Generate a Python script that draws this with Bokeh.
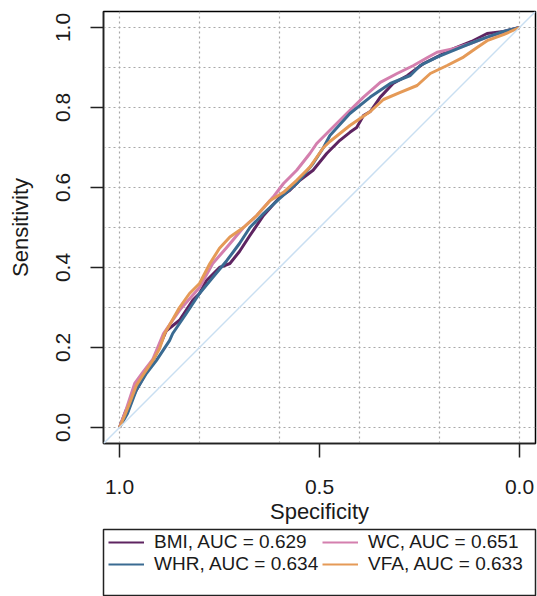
from bokeh.plotting import figure
from bokeh.layouts import column
from bokeh.models import Range1d, FixedTicker, Slope, Legend, LegendItem, PrintfTickFormatter
from bokeh.embed import file_html
from bokeh.resources import INLINE

# ---- data ----
bmi_spec = [1.0, 0.985, 0.96, 0.935, 0.91, 0.883, 0.85, 0.817, 0.80, 0.783, 0.75, 0.724, 0.70, 0.674,
            0.64, 0.60, 0.574, 0.549, 0.516, 0.482, 0.449, 0.424, 0.407, 0.39, 0.373, 0.348, 0.316,
            0.28, 0.24, 0.215, 0.165, 0.12, 0.081, 0.04, 0.0]
bmi_sens = [0.0, 0.04, 0.09, 0.135, 0.18, 0.242, 0.268, 0.318, 0.335, 0.367, 0.40, 0.41, 0.44, 0.48,
            0.53, 0.575, 0.593, 0.618, 0.643, 0.685, 0.718, 0.738, 0.75, 0.78, 0.79, 0.826, 0.86,
            0.88, 0.91, 0.922, 0.947, 0.965, 0.985, 0.99, 1.0]

wc_spec = [1.0, 0.985, 0.962, 0.94, 0.917, 0.89, 0.85, 0.80, 0.767, 0.732, 0.69, 0.657, 0.616, 0.59,
           0.557, 0.524, 0.507, 0.474, 0.432, 0.39, 0.348, 0.306, 0.265, 0.23, 0.206, 0.165, 0.123,
           0.081, 0.04, 0.0]
wc_sens = [0.0, 0.04, 0.11, 0.14, 0.17, 0.235, 0.293, 0.35, 0.41, 0.45, 0.50, 0.53, 0.576, 0.61,
           0.643, 0.685, 0.71, 0.743, 0.785, 0.826, 0.863, 0.885, 0.905, 0.925, 0.938, 0.947, 0.96,
           0.976, 0.988, 1.0]

whr_spec = [1.0, 0.98, 0.958, 0.933, 0.908, 0.875, 0.867, 0.833, 0.80, 0.767, 0.732, 0.70, 0.674,
            0.64, 0.60, 0.557, 0.516, 0.49, 0.474, 0.424, 0.373, 0.323, 0.273, 0.248, 0.206, 0.165,
            0.123, 0.081, 0.04, 0.0]
whr_sens = [0.0, 0.035, 0.093, 0.135, 0.167, 0.217, 0.235, 0.285, 0.335, 0.375, 0.417, 0.46, 0.50,
            0.535, 0.572, 0.61, 0.66, 0.70, 0.73, 0.785, 0.826, 0.86, 0.88, 0.905, 0.926, 0.943,
            0.96, 0.976, 0.99, 1.0]

vfa_spec = [1.0, 0.987, 0.975, 0.958, 0.942, 0.917, 0.90, 0.887, 0.85, 0.825, 0.80, 0.774, 0.75,
            0.724, 0.69, 0.657, 0.624, 0.59, 0.557, 0.524, 0.49, 0.474, 0.424, 0.373, 0.34, 0.298,
            0.256, 0.223, 0.181, 0.14, 0.106, 0.081, 0.04, 0.0]
vfa_sens = [0.0, 0.03, 0.06, 0.105, 0.13, 0.167, 0.197, 0.235, 0.30, 0.335, 0.36, 0.41, 0.448,
            0.476, 0.50, 0.53, 0.567, 0.588, 0.618, 0.651, 0.70, 0.715, 0.755, 0.79, 0.82, 0.838,
            0.855, 0.885, 0.905, 0.926, 0.95, 0.967, 0.982, 1.0]

series_names = ["BMI", "WC", "WHR", "VFA"]
series_auc = ["0.629", "0.651", "0.634", "0.633"]
series_colors = ["#5E2461", "#D47FAE", "#3A6B92", "#E59A57"]

x_ticks = [1.0, 0.5, 0.0]
x_tick_labels = ["1.0", "0.5", "0.0"]
y_ticks = [0.0, 0.2, 0.4, 0.6, 0.8, 1.0]
y_tick_labels = ["0.0", "0.2", "0.4", "0.6", "0.8", "1.0"]
x_grid = [0.0, 0.2, 0.4, 0.6, 0.8, 1.0]
y_grid = [0.0, 0.1, 0.2, 0.3, 0.4, 0.5, 0.6, 0.7, 0.8, 0.9, 1.0]

FONT = "Liberation Sans"

# ---------------- main ROC panel ----------------
p = figure(width=537, height=527, output_backend="svg", toolbar_location=None,
           x_range=Range1d(1.04, -0.04), y_range=Range1d(-0.04, 1.04),
           min_border_left=103, min_border_right=2, min_border_top=11, min_border_bottom=84,
           background_fill_color="white", border_fill_color="white")

p.outline_line_color = "black"
p.outline_line_width = 1.5
p.outline_line_alpha = 1.0

p.xgrid.ticker = FixedTicker(ticks=x_grid)
p.ygrid.ticker = FixedTicker(ticks=y_grid)
for g in (p.xgrid, p.ygrid):
    g.grid_line_color = "#A8A8A8"
    g.grid_line_dash = "2 3"
    g.grid_line_width = 1.2

p.xaxis.ticker = FixedTicker(ticks=x_ticks)
p.yaxis.ticker = FixedTicker(ticks=y_ticks)
p.xaxis.formatter = PrintfTickFormatter(format="%.1f")
p.yaxis.formatter = PrintfTickFormatter(format="%.1f")
p.xaxis.major_label_overrides = dict(zip(x_ticks, x_tick_labels))
p.yaxis.major_label_overrides = dict(zip(y_ticks, y_tick_labels))
p.xaxis.axis_label = "Specificity"
p.yaxis.axis_label = "Sensitivity"
p.yaxis.major_label_orientation = "vertical"
for ax in (p.xaxis, p.yaxis):
    ax.axis_line_color = "#222222"
    ax.axis_line_width = 1.5
    ax.major_tick_line_color = "#222222"
    ax.major_tick_line_width = 1.5
    ax.major_tick_in = 0
    ax.minor_tick_line_color = None
    ax.major_label_text_font = FONT
    ax.major_label_text_font_size = "21px"
    ax.major_label_text_color = "#1a1a1a"
    ax.axis_label_text_font = FONT
    ax.axis_label_text_font_size = "22px"
    ax.axis_label_text_font_style = "normal"
    ax.axis_label_text_color = "#1a1a1a"
p.xaxis.major_tick_out = 14
p.yaxis.major_tick_out = 13
p.xaxis.major_label_standoff = 22
p.yaxis.major_label_standoff = 21
p.xaxis.axis_label_standoff = 2
p.yaxis.axis_label_standoff = 20

p.add_layout(Slope(gradient=-1, y_intercept=1, line_color="#C9DFF2", line_width=1.5))

specs = [bmi_spec, wc_spec, whr_spec, vfa_spec]
senss = [bmi_sens, wc_sens, whr_sens, vfa_sens]
for sp, se, c in zip(specs, senss, series_colors):
    p.line(sp, se, line_color=c, line_width=3, line_join="round")

# ---------------- legend panel (its frame outline is the legend box) ----------------
# the series are drawn again here only as legend swatches; this panel's y-range keeps them out of view
p2 = figure(width=537, height=69, output_backend="svg", toolbar_location=None,
            x_axis_location=None, y_axis_location=None,
            x_range=Range1d(0, 1), y_range=Range1d(2, 3),
            min_border_left=72, min_border_right=2, min_border_top=2, min_border_bottom=0,
            background_fill_color="white", border_fill_color="white")
p2.xgrid.visible = False
p2.ygrid.visible = False
p2.outline_line_color = "#222222"
p2.outline_line_width = 1.5

swatches = [p2.line(sp, se, line_color=c, line_width=2.2)
            for sp, se, c in zip(specs, senss, series_colors)]
labels = [f"{n}, AUC = {a}" for n, a in zip(series_names, series_auc)]
items = [LegendItem(label=lab, renderers=[r]) for lab, r in zip(labels, swatches)]
legend = Legend(items=items, orientation="horizontal", ncols=2,
                location=(5, 21), margin=0, padding=0, spacing=0,
                glyph_width=36, glyph_height=22, label_height=22, label_width=168,
                label_standoff=10, label_text_font=FONT, label_text_font_size="19px",
                label_text_color="#1a1a1a",
                border_line_color=None, background_fill_alpha=0.0)
p2.add_layout(legend, "center")

layout = column(p, p2, spacing=0)
open("out.html", "w").write(file_html(layout, INLINE))
